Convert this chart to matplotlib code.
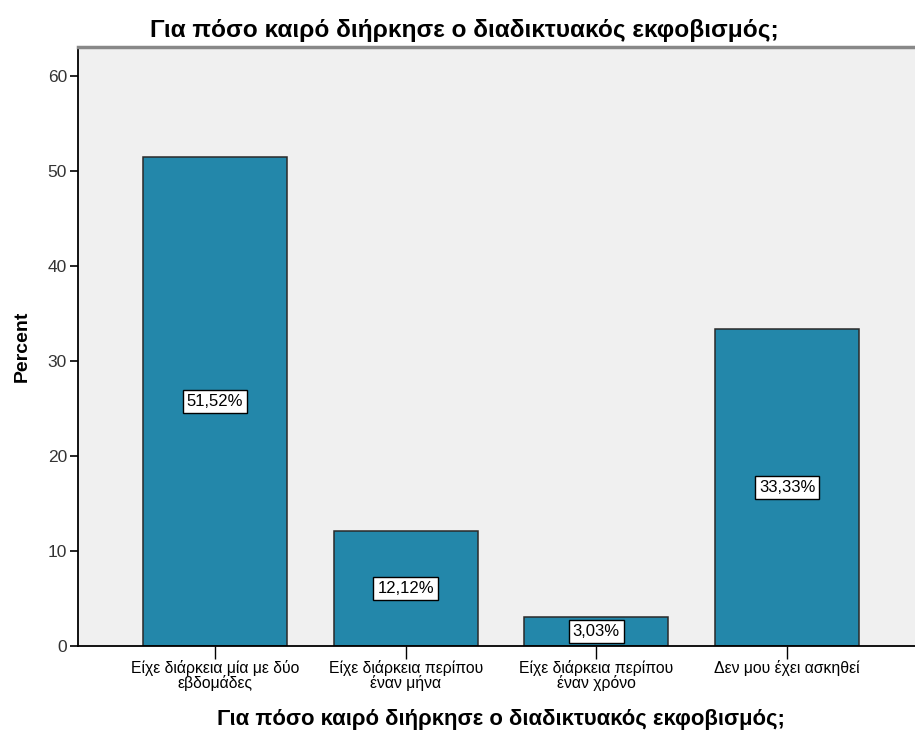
import matplotlib
matplotlib.use("Agg")
import matplotlib.pyplot as plt

categories = ["Είχε διάρκεια μία με δύο\nεβδομάδες",
              "Είχε διάρκεια περίπου\nέναν μήνα",
              "Είχε διάρκεια περίπου\nέναν χρόνο",
              "Δεν μου έχει ασκηθεί"]
values = [51.52, 12.12, 3.03, 33.33]
value_labels = ["51,52%", "12,12%", "3,03%", "33,33%"]
yticks = [0, 10, 20, 30, 40, 50, 60]
title = "Για πόσο καιρό διήρκησε ο διαδικτυακός εκφοβισμός;"

plt.rcParams['font.family'] = ['Liberation Sans', 'DejaVu Sans']

W, H = 915, 731
fig = plt.figure(figsize=(W/100, H/100), dpi=100)
ax = fig.add_axes([78/W, (H-646)/H, 846/W, 599/H])
ax.set_facecolor('#F0F0F0')

x = list(range(len(categories)))
ax.bar(x, values, width=0.755, color='#2387AA', edgecolor='#2a2a2a', linewidth=1.1, zorder=2)
for xi, v, lab in zip(x, values, value_labels):
    ax.text(xi, v/2, lab, ha='center', va='center', fontsize=12, color='black',
            bbox=dict(boxstyle='square,pad=0.25', facecolor='white', edgecolor='black', linewidth=1.0),
            zorder=3)

ax.set_xlim(-0.7185, 3.7185)
ax.set_ylim(0, 63.05)
ax.set_yticks(yticks)
ax.set_yticklabels([str(t) for t in yticks], fontsize=12.5, color='#333333')
ax.set_xticks(x)
ax.set_xticklabels(categories, fontsize=11.3, color='black', linespacing=0.95)
ax.tick_params(axis='y', direction='out', length=6, width=1.2, color='black', pad=2)
ax.tick_params(axis='x', direction='out', length=9, width=1.0, color='black', pad=1)

for s in ['left', 'bottom']:
    ax.spines[s].set_color('black')
    ax.spines[s].set_linewidth(1.3)
ax.spines['top'].set_color('#888888')
ax.spines['top'].set_linewidth(2.5)
ax.spines['right'].set_visible(False)

ax.set_ylabel("Percent", fontsize=14, fontweight='bold', labelpad=12)
ax.set_xlabel(title, fontsize=15.9, fontweight='bold', labelpad=13)

fig.text(464/W, 1 - 31/H, title, ha='center', va='center', fontsize=17.6, fontweight='bold')

fig.savefig("out.png", dpi=100, facecolor='white')
